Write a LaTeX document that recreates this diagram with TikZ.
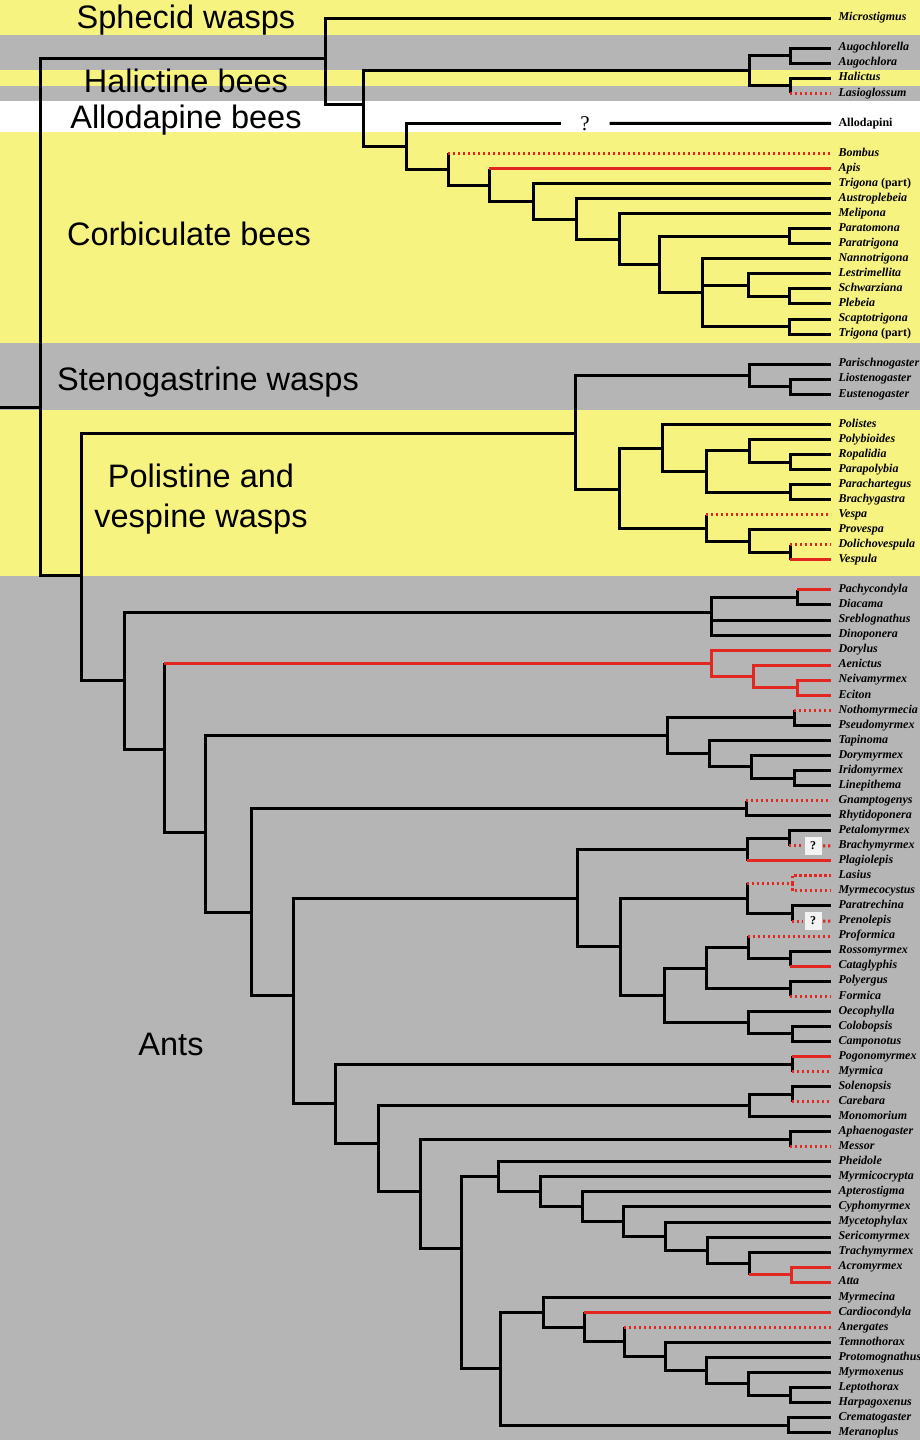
\documentclass[tikz,border=0pt]{standalone}
\usepackage{fontspec}
\setmainfont{Liberation Serif}
\newfontfamily\grpfont{Liberation Sans}
\definecolor{bandyellow}{RGB}{247,243,128}
\definecolor{bandgray}{RGB}{181,181,181}
\definecolor{cladered}{RGB}{226,38,32}
\tikzset{every picture/.style={line width=3pt},
  branch/.style={draw=black,line width=3pt},
  redbranch/.style={draw=cladered,line width=3pt},
  dotbranch/.style={draw=cladered,line width=3pt,dash pattern=on 2.4pt off 2.6pt},
  tip/.style={anchor=west,inner xsep=6pt,inner ysep=0pt,text height=8pt,text depth=2.5pt,font=\fontsize{12}{13}\selectfont\bfseries\itshape},
  group/.style={font=\grpfont\fontsize{32.5}{40}\selectfont,align=center,inner sep=0pt},
  qbox/.style={fill=white,fill opacity=0.85,text opacity=1,inner sep=0pt,minimum width=17pt,minimum height=18pt,font=\fontsize{12}{13}\selectfont\bfseries}}

\begin{document}
\begin{tikzpicture}[x=1pt,y=1pt,yscale=-1]
\useasboundingbox (0,0) rectangle (920,1440);

% background bands
\fill[bandyellow] (0,0) rectangle (920,35);
\fill[bandgray] (0,35) rectangle (920,70);
\fill[bandyellow] (0,70) rectangle (920,86);
\fill[bandgray] (0,86) rectangle (920,101);
\fill[white] (0,101) rectangle (920,132);
\fill[bandyellow] (0,132) rectangle (920,343);
\fill[bandgray] (0,343) rectangle (920,410);
\fill[bandyellow] (0,410) rectangle (920,576);
\fill[bandgray] (0,576) rectangle (920,1440);

% group labels
\node[group,anchor=base] (gSphe) at (186,28) {Sphecid wasps};
\node[group,anchor=base] (gHali) at (186,92) {Halictine bees};
\node[group,anchor=base] (gAllo) at (186,128) {Allodapine bees};
\node[group,anchor=base] (gCorb) at (189,245) {Corbiculate bees};
\node[group,anchor=base] (gSten) at (208,390) {Stenogastrine wasps};
\node[group] (gPoli) at (201,499) {Polistine and\\vespine wasps};
\node[group,anchor=base] (gAnts) at (171,1055) {Ants};

% taxa
\foreach \n/\r/\t in {tMicro/0/Microstigmus, tAugl/2/Augochlorella, tAugo/3/Augochlora,
  tHali/4/Halictus, tLasg/5/Lasioglossum, tAllo/7/\textup{Allodapini}, tBomb/9/Bombus,
  tApis/10/Apis, tTriA/11/Trigona \textup{(part)}, tAust/12/Austroplebeia, tMeli/13/Melipona,
  tPatm/14/Paratomona, tPatg/15/Paratrigona, tNann/16/Nannotrigona, tLest/17/Lestrimellita,
  tSchw/18/Schwarziana, tPleb/19/Plebeia, tScap/20/Scaptotrigona, tTriB/21/Trigona \textup{(part)},
  tPari/23/Parischnogaster, tLios/24/Liostenogaster, tEust/25/Eustenogaster,
  tPols/27/Polistes, tPoly/28/Polybioides, tRopa/29/Ropalidia, tParp/30/Parapolybia,
  tParc/31/Parachartegus, tBrag/32/Brachygastra, tVesa/33/Vespa, tProv/34/Provespa,
  tDoli/35/Dolichovespula, tVesu/36/Vespula,
  tPach/38/Pachycondyla, tDiac/39/Diacama, tSreb/40/Sreblognathus, tDino/41/Dinoponera,
  tDory/42/Dorylus, tAeni/43/Aenictus, tNeiv/44/Neivamyrmex, tEcit/45/Eciton,
  tNoth/46/Nothomyrmecia, tPseu/47/Pseudomyrmex, tTapi/48/Tapinoma, tDorm/49/Dorymyrmex,
  tIrid/50/Iridomyrmex, tLine/51/Linepithema, tGnam/52/Gnamptogenys, tRhyt/53/Rhytidoponera,
  tPeta/54/Petalomyrmex, tBram/55/Brachymyrmex, tPlag/56/Plagiolepis, tLasi/57/Lasius,
  tMyrc/58/Myrmecocystus, tPara/59/Paratrechina, tPren/60/Prenolepis, tProf/61/Proformica,
  tRoss/62/Rossomyrmex, tCata/63/Cataglyphis, tPolg/64/Polyergus, tForm/65/Formica,
  tOeco/66/Oecophylla, tColo/67/Colobopsis, tCamp/68/Camponotus, tPogo/69/Pogonomyrmex,
  tMyrm/70/Myrmica, tSole/71/Solenopsis, tCare/72/Carebara, tMono/73/Monomorium,
  tApha/74/Aphaenogaster, tMess/75/Messor, tPhei/76/Pheidole, tMycr/77/Myrmicocrypta,
  tApte/78/Apterostigma, tCyph/79/Cyphomyrmex, tMyce/80/Mycetophylax, tSeri/81/Sericomyrmex,
  tTrac/82/Trachymyrmex, tAcro/83/Acromyrmex, tAtta/84/Atta, tMyrn/85/Myrmecina,
  tCard/86/Cardiocondyla, tAner/87/Anergates, tTemn/88/Temnothorax, tProt/89/Protomognathus,
  tMyrx/90/Myrmoxenus, tLept/91/Leptothorax, tHarp/92/Harpagoxenus, tCrem/93/Crematogaster,
  tMera/94/Meranoplus}
  \node[tip] (\n) at (831,{18+15.05*\r}) {\t};

% question marks
\node[inner sep=0pt,minimum width=46pt,font=\fontsize{21}{23}\selectfont] (qAllo) at (585,123.35) {?};
\node[qbox] (qBram) at (813,845.75) {?};
\node[qbox] (qPren) at (813,921) {?};

% internal nodes
\coordinate (stub) at (0,407);
\foreach \n/\x/\y in {nRoot/40/407, nA/325/58, nB/363/104, nHalict/749/70.7, nAug/790/55.6,
  nHal/790/85.7, nAllo/406/146, nBom/448/169, nApis/489/185, nTrig/533/201, nAust/576/219,
  nMel/619/239, nPara/659/264.5, nPtm/789/236.2, nNan/702/292.7, nLes/748/285, nSch/789/296.4,
  nSca/789/326.5,
  nVW/81/575, nWasp/575/433, nSten/749/375.4, nLio/790/386.7, nPol/619/489, nPols/662/448,
  nRop/706/471.4, nPoly/749/450.7, nRopa/790/462, nParc/790/492.1, nVesp/706/528,
  nProv/749/541, nDol/790/552.3,
  nAnt1/124/680, nPon/711/612, nPach/797/597.4, nAnt2/164/749, nDor/711/663.3, nAen/753/676.4,
  nNei/797/687.7, nAnt3/205/832, nNoth/667/735.7, nNothP/794/717.8, nTap/709/753.6,
  nDorm/751/766.7, nIrid/794/778, nAnt4/251/912, nGnam/746/808.1, nAnt5/293/995,
  nForm/577/898.2, nPlag/747/849.5, nPetB/789/838.2, nFor2/620/946.9, nLP/747/898.4,
  nLasP/792/883.4, nParatr/792/913.5, nFor3/664/995.3, nFor4/706/968, nProf/748/947.3,
  nRoss/790/958.6, nPolg/790/988.7, nOeco/748/1022.6, nColo/792/1033.9,
  nMyr1/335/1103, nPogo/792/1064, nMyr2/378/1143, nSol/749/1105.4, nSolP/792/1094.1,
  nMyr3/420/1191, nAph/790/1139.2, nMyr4/461/1248, nAtt1/498/1176.8, nAtt2/540/1191.8,
  nAtt3/582/1206.7, nAtt4/623/1221.5, nAtt5/665/1236.1, nAtt6/707/1250.2, nAtt7/749/1263.4,
  nAtta/791/1274.7, nMyrm/500/1368.7, nMyrm2/543/1312.2, nCard/584/1327.1, nAne/624/1341.9,
  nTem/665/1356.5, nProt/706/1370.6, nMyrx/748/1383.8, nLept/790/1395.1, nCrem/788/1425.2}
  \coordinate (\n) at (\x,\y);

% black branches
\draw[branch] (stub) -- (nRoot);
\foreach \p/\c in {nRoot/nA, nRoot/nVW, nA/tMicro, nA/nB, nB/nHalict, nB/nAllo,
  nHalict/nAug, nHalict/nHal, nAug/tAugl, nAug/tAugo, nHal/tHali, nAllo/qAllo, nAllo/nBom,
  nBom/nApis, nApis/nTrig, nTrig/tTriA, nTrig/nAust, nAust/tAust, nAust/nMel, nMel/tMeli,
  nMel/nPara, nPara/nPtm, nPara/nNan, nPtm/tPatm, nPtm/tPatg, nNan/tNann, nNan/nLes,
  nNan/nSca, nLes/tLest, nLes/nSch, nSch/tSchw, nSch/tPleb, nSca/tScap, nSca/tTriB,
  nVW/nWasp, nVW/nAnt1, nWasp/nSten, nWasp/nPol, nSten/tPari, nSten/nLio, nLio/tLios,
  nLio/tEust, nPol/nPols, nPol/nVesp, nPols/tPols, nPols/nRop, nRop/nPoly, nRop/nParc,
  nPoly/tPoly, nPoly/nRopa, nRopa/tRopa, nRopa/tParp, nParc/tParc, nParc/tBrag,
  nVesp/nProv, nProv/tProv, nProv/nDol,
  nAnt1/nPon, nAnt1/nAnt2, nPon/nPach, nPon/tSreb, nPon/tDino, nPach/tDiac, nAnt2/nAnt3,
  nAnt3/nNoth, nAnt3/nAnt4, nNoth/nNothP, nNoth/nTap, nNothP/tPseu, nTap/tTapi, nTap/nDorm,
  nDorm/tDorm, nDorm/nIrid, nIrid/tIrid, nIrid/tLine, nAnt4/nGnam, nAnt4/nAnt5, nGnam/tRhyt,
  nAnt5/nForm, nAnt5/nMyr1, nForm/nPlag, nForm/nFor2, nPlag/nPetB, nPetB/tPeta, nFor2/nLP,
  nFor2/nFor3, nLP/nParatr, nParatr/tPara, nFor3/nFor4, nFor3/nOeco, nFor4/nProf,
  nFor4/nPolg, nProf/nRoss, nRoss/tRoss, nPolg/tPolg, nOeco/tOeco, nOeco/nColo,
  nColo/tColo, nColo/tCamp, nMyr1/nPogo, nMyr1/nMyr2, nMyr2/nSol, nMyr2/nMyr3,
  nSol/nSolP, nSol/tMono, nSolP/tSole, nMyr3/nAph, nMyr3/nMyr4, nAph/tApha, nMyr4/nAtt1,
  nMyr4/nMyrm, nAtt1/tPhei, nAtt1/nAtt2, nAtt2/tMycr, nAtt2/nAtt3, nAtt3/tApte, nAtt3/nAtt4,
  nAtt4/tCyph, nAtt4/nAtt5, nAtt5/tMyce, nAtt5/nAtt6, nAtt6/tSeri, nAtt6/nAtt7, nAtt7/tTrac,
  nMyrm/nMyrm2, nMyrm/nCrem, nMyrm2/tMyrn, nMyrm2/nCard, nCard/nAne, nAne/nTem, nTem/tTemn,
  nTem/nProt, nProt/tProt, nProt/nMyrx, nMyrx/tMyrx, nMyrx/nLept, nLept/tLept, nLept/tHarp,
  nCrem/tCrem, nCrem/tMera}
  \draw[branch] (\p) |- (\c);
\draw[branch] (qAllo) -- (tAllo);

% red branches (black stem)
\foreach \p/\c in {nApis/tApis, nDol/tVesu, nAnt2/nDor, nPach/tPach, nPlag/tPlag,
  nRoss/tCata, nPogo/tPogo, nAtt7/nAtta, nCard/tCard}
  {\draw[branch] (\p) -- (\p |- \c);
   \draw[redbranch] (\p |- \c) -- (\c);}

% dotted branches (black stem)
\foreach \p/\c in {nHal/tLasg, nBom/tBomb, nVesp/tVesa, nDol/tDoli, nNothP/tNoth,
  nGnam/tGnam, nPetB/qBram, nLP/nLasP, nParatr/qPren, nProf/tProf, nPolg/tForm,
  nPogo/tMyrm, nSolP/tCare, nAph/tMess, nAne/tAner}
  {\draw[branch] (\p) -- (\p |- \c);
   \draw[dotbranch] (\p |- \c) -- (\c);}
\draw[dotbranch] (qBram) -- (tBram);
\draw[dotbranch] (qPren) -- (tPren);
\draw[dotbranch] (nLasP) |- (tLasi);
\draw[dotbranch] (nLasP) |- (tMyrc);

% fully red clades
\foreach \p/\c in {nDor/tDory, nDor/nAen, nAen/tAeni, nAen/nNei, nNei/tNeiv, nNei/tEcit,
  nAtta/tAcro, nAtta/tAtta}
  \draw[redbranch] (\p) |- (\c);

\end{tikzpicture}
\end{document}
